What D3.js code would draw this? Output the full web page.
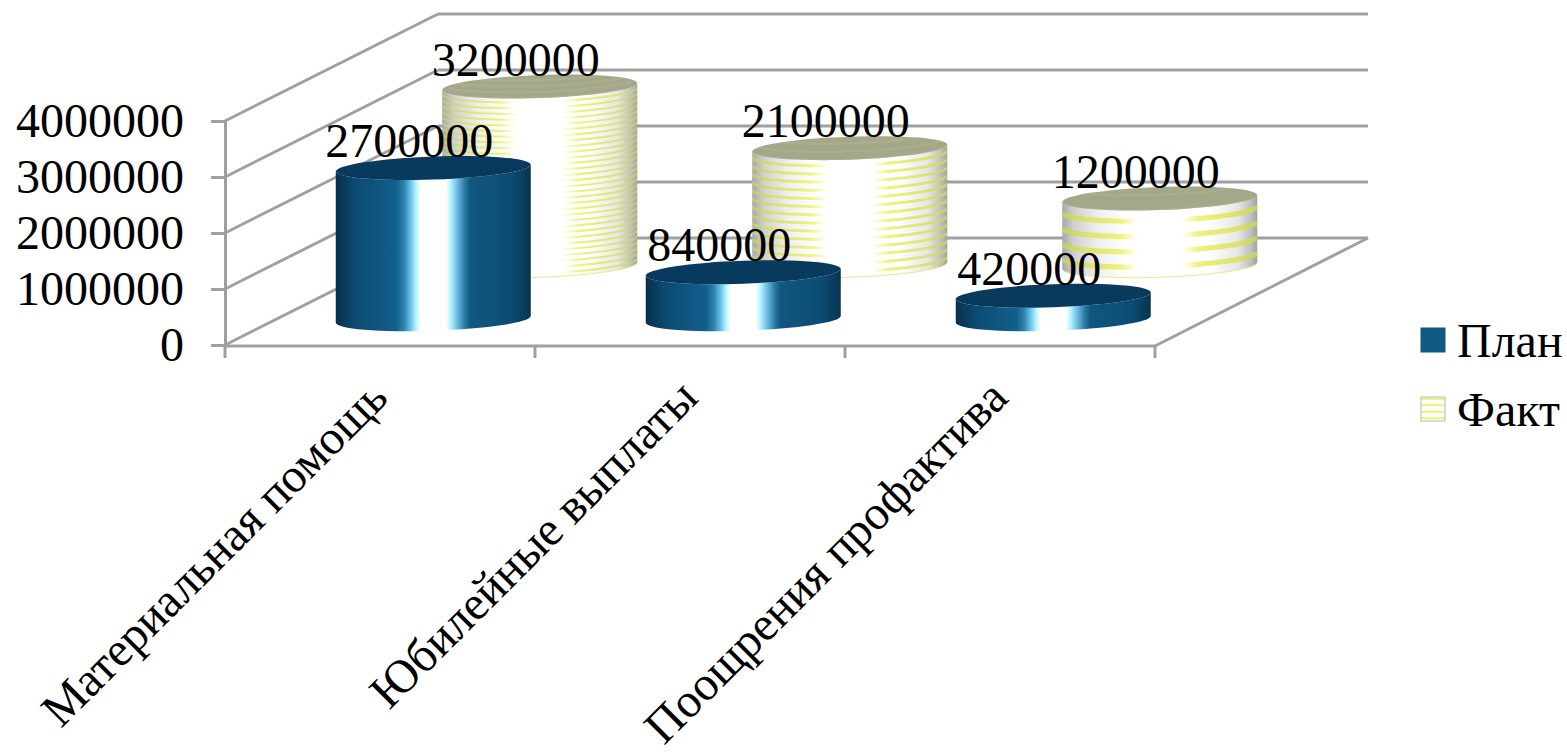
<!DOCTYPE html>
<html>
<head>
<meta charset="utf-8">
<script src="https://cdn.jsdelivr.net/npm/d3@7"></script>
<style>
  html, body { margin: 0; background: #fff; overflow: hidden; }
  text { font-family: "Liberation Serif", serif; font-size: 48px; fill: #000; }
  .grid { stroke: #a0a0a0; stroke-width: 3; fill: none; }
</style>
</head>
<body>
<script>
const categories = ['Материальная помощь', 'Юбилейные выплаты', 'Поощрения профактива']
const seriesNames = ['План', 'Факт']
const planValues = [2700000, 840000, 420000]
const factValues = [3200000, 2100000, 1200000]
const yTicks = [0, 1000000, 2000000, 3000000, 4000000]
const factStripes = [31, 14, 4]

const width = 1567
const height = 752
const depthX = 213
const depthY = 107
const rx = 97.5
const ry = 11.5
const tilt = 3.4

const x = d3.scaleBand().domain(categories).range([225, 1155])
const y = d3.scaleLinear().domain([0, 4000000]).range([345, 121])
// position of each series front to back on the floor, 0..1
const depth = d3.scaleBand().domain(seriesNames).range([0, 1])

const svg = d3.select('body').append('svg')
	.attr('width', width)
	.attr('height', height)

const defs = svg.append('defs')

function gradient(id, stops) {
	const g = defs.append('linearGradient').attr('id', id)
	stops.forEach(s => g.append('stop')
		.attr('offset', s[0])
		.attr('stop-color', s[1])
		.attr('stop-opacity', s[2] === undefined ? 1 : s[2]))
}

gradient('planSide', [[0, '#06304c'], [0.1, '#0c4a72'], [0.31, '#115f8c'], [0.35, '#2f82ab'], [0.385, '#6cc4ea'],
	[0.41, '#b0f2ff'], [0.435, '#fff'], [0.565, '#fff'], [0.59, '#b0f2ff'], [0.625, '#6cb8df'], [0.66, '#2a7da8'], [0.69, '#11577f'], [0.9, '#0c4c74'], [1, '#073450']])
gradient('factSide', [[0, '#a8a8a8'], [0.06, '#d0d0d0'], [0.18, '#eeeeee'], [0.33, '#fff'], [0.75, '#fff'], [0.9, '#e6e6e6'], [0.97, '#bdbdbd'], [1, '#a0a0a0']])
gradient('factStripe', [[0, '#c4cf62'], [0.12, '#dbe26f'], [0.3, '#eef27a'], [0.39, '#f6f88a', 0], [0.61, '#f6f88a', 0], [0.7, '#eef27a'], [0.9, '#dbe26f'], [1, '#c4cf62']])

const sidePath = (cx, top, base) => `M${cx - rx},${top + tilt}L${cx - rx},${base + tilt}` +
	`A${rx},${ry} -2 0 0 ${cx + rx},${base - tilt}L${cx + rx},${top - tilt}` +
	`A${rx},${ry} -2 0 1 ${cx - rx},${top + tilt}Z`
const topPath = (cx, top) => `M${cx - rx},${top + tilt}A${rx},${ry} -2 1 1 ${cx + rx},${top - tilt}` +
	`A${rx},${ry} -2 1 1 ${cx - rx},${top + tilt}Z`
const arcPath = (cx, cy) => `M${cx - rx},${cy + tilt}A${rx},${ry} -2 0 0 ${cx + rx},${cy - tilt}`

// walls and floor
const gridG = svg.append('g')
yTicks.forEach(t => {
	gridG.append('line').attr('class', 'grid')
		.attr('x1', x.range()[0]).attr('y1', y(t))
		.attr('x2', x.range()[0] + depthX).attr('y2', y(t) - depthY)
	gridG.append('line').attr('class', 'grid')
		.attr('x1', x.range()[0] + depthX).attr('y1', y(t) - depthY)
		.attr('x2', x.range()[1] + depthX).attr('y2', y(t) - depthY)
})
gridG.append('line').attr('class', 'grid')
	.attr('x1', x.range()[1]).attr('y1', y(0) + 1)
	.attr('x2', x.range()[1] + depthX).attr('y2', y(0) - depthY)
gridG.append('line').attr('class', 'grid')
	.attr('x1', x.range()[0]).attr('y1', y(0) + 1)
	.attr('x2', x.range()[1]).attr('y2', y(0) + 1)

// axes
const yAxis = svg.append('g')
	.attr('transform', `translate(${x.range()[0]},0)`)
	.call(d3.axisLeft(y).tickValues(yTicks).tickFormat(d3.format('d')).tickSize(14).tickPadding(27))
yAxis.selectAll('line').attr('stroke', '#a0a0a0').attr('stroke-width', 3)
yAxis.select('.domain').attr('stroke', '#a0a0a0').attr('stroke-width', 3)
yAxis.attr('font-size', null).attr('font-family', null)

const xTicks = svg.append('g')
categories.concat(['']).forEach((c, i) => {
	const tx = x.range()[0] + i * x.step()
	xTicks.append('line').attr('class', 'grid')
		.attr('x1', tx).attr('x2', tx)
		.attr('y1', y(0)).attr('y2', y(0) + 13)
})

svg.append('g').selectAll('text')
	.data(categories)
	.enter().append('text')
		.attr('text-anchor', 'end')
		.attr('transform', d => `translate(${x(d) + x.bandwidth() / 2 + 10},${y(0) + 55}) rotate(-45)`)
		.text(d => d)

// cylinders, back row first
const labels = []
const drawFact = (v, i) => {
	const cx = x(categories[i]) + x.bandwidth() / 2 + (depth('Факт') + depth.bandwidth() / 2) * depthX
	const base = y(0) + 1 - (depth('Факт') + depth.bandwidth() / 2) * depthY
	const top = base - (y(0) - y(v))
	const g = svg.append('g')
	const clipSide = `side${i}`
	const clipTop = `top${i}`
	defs.append('clipPath').attr('id', clipSide).append('path').attr('d', sidePath(cx, top, base))
	defs.append('clipPath').attr('id', clipTop).append('path').attr('d', topPath(cx, top))
	g.append('path').attr('d', sidePath(cx, top, base)).attr('fill', 'url(#factSide)')
	const period = (base - top) / (factStripes[i] + 0.4)
	const stripes = g.append('g').attr('clip-path', `url(#${clipSide})`)
	d3.range(factStripes[i] + 2).forEach(k => {
		stripes.append('path')
			.attr('d', arcPath(cx, top + period * (k + 0.7)))
			.attr('fill', 'none')
			.attr('stroke', 'url(#factStripe)')
			.attr('stroke-width', period * 0.34)
	})
	g.append('path').attr('d', arcPath(cx, base))
		.attr('fill', 'none')
		.attr('stroke', '#e6ea8c')
		.attr('stroke-width', 1)
	g.append('path').attr('d', topPath(cx, top)).attr('fill', '#a5a888')
	const lid = g.append('g').attr('clip-path', `url(#${clipTop})`)
	d3.range(-3, 4).forEach(k => {
		lid.append('path')
			.attr('d', arcPath(cx, top + k * Math.max(period, 6)))
			.attr('fill', 'none')
			.attr('stroke', '#b3b596')
			.attr('stroke-opacity', 0.45)
			.attr('stroke-width', 2)
	})
	labels.push({ v, cx, top })
}
const drawPlan = (v, i) => {
	const cx = x(categories[i]) + x.bandwidth() / 2 + (depth('План') + depth.bandwidth() / 2) * depthX
	const base = y(0) + 1 - (depth('План') + depth.bandwidth() / 2) * depthY
	const top = base - (y(0) - y(v))
	const g = svg.append('g')
	g.append('path').attr('d', sidePath(cx, top, base)).attr('fill', 'url(#planSide)')
	g.append('path').attr('d', topPath(cx, top)).attr('fill', '#073a5c')
	labels.push({ v, cx, top })
}
categories.forEach((c, i) => {
	drawFact(factValues[i], i)
	drawPlan(planValues[i], i)
})

svg.append('g').selectAll('text')
	.data(labels)
	.enter().append('text')
		.attr('text-anchor', 'middle')
		.attr('x', d => d.cx - 24)
		.attr('y', d => d.top - 11)
		.text(d => d.v)

// legend
const legendY = d3.scalePoint().domain(seriesNames).range([340, 409])
const patt = defs.append('pattern').attr('id', 'legendFact')
	.attr('patternUnits', 'userSpaceOnUse')
	.attr('width', 24).attr('height', 6.5)
patt.append('rect').attr('width', 24).attr('height', 6.5).attr('fill', '#fff')
patt.append('rect').attr('y', 2).attr('width', 24).attr('height', 1.5).attr('fill', '#e4f23c')

const legend = svg.append('g').selectAll('g')
	.data(seriesNames)
	.enter().append('g')
		.attr('transform', d => `translate(1421,${legendY(d)})`)
legend.append('rect')
	.attr('y', -12)
	.attr('width', 24)
	.attr('height', 24)
	.attr('fill', d => d === 'План' ? '#0f5a85' : 'url(#legendFact)')
	.attr('stroke', d => d === 'План' ? '#0f5a85' : '#b8b8b8')
legend.append('text')
	.attr('x', 36)
	.attr('y', 17)
	.text(d => d)
</script>
</body>
</html>
